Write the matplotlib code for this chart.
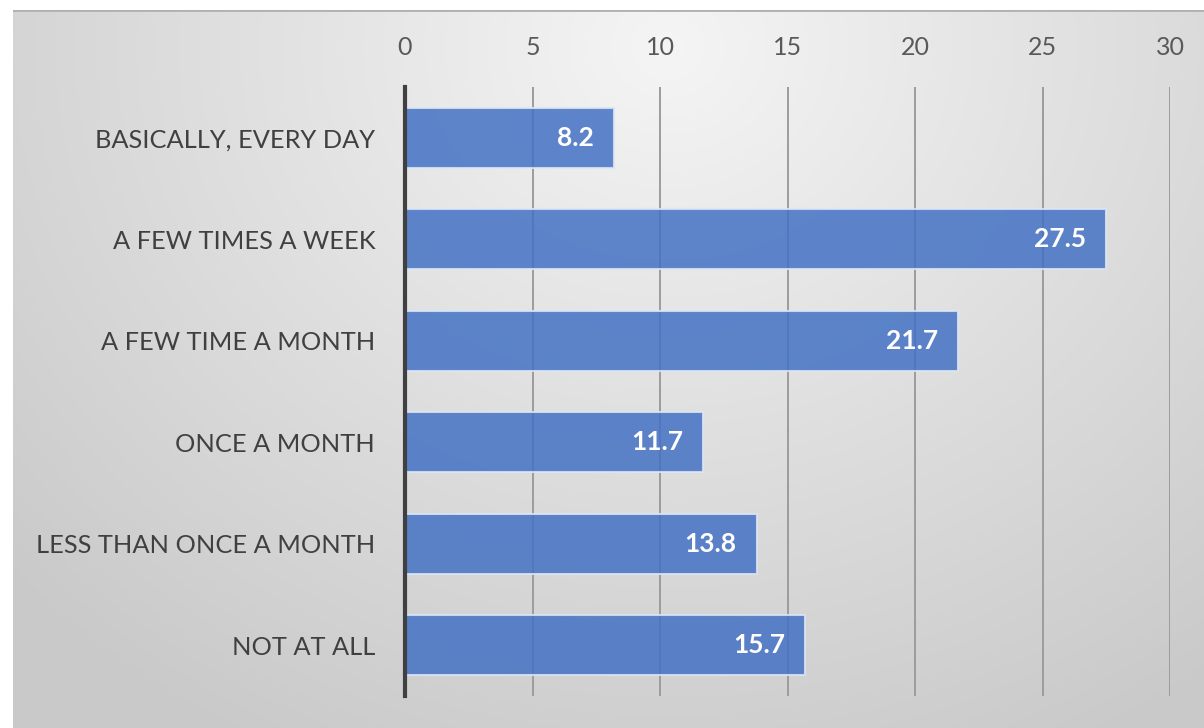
import numpy as np
import matplotlib.pyplot as plt

categorias = ['BASICALLY, EVERY DAY', 'A FEW TIMES A WEEK', 'A FEW TIME A MONTH',
              'ONCE A MONTH', 'LESS THAN ONCE A MONTH', 'NOT AT ALL']
valores = [8.2, 27.5, 21.7, 11.7, 13.8, 15.7]
ticks_x = [0, 5, 10, 15, 20, 25, 30]

plt.rcParams['font.family'] = ['Lato', 'DejaVu Sans']

fig = plt.figure(figsize=(12.04, 7.28), dpi=100, facecolor='white')

# fundo com gradiente radial
bg = fig.add_axes([13 / 1204, 0, 1 - 13 / 1204, 1 - 10 / 728])
bg.set_axis_off()
yy, xx = np.mgrid[0:1:300j, 0:1:500j]
d = np.sqrt(((xx - 0.55) / 0.75) ** 2 + ((yy - 0.05) / 1.1) ** 2)
d = np.clip(d, 0, 1)
cor = 0.96 - 0.17 * d
bg.imshow(np.dstack([cor, cor, cor]), aspect='auto', extent=[0, 1, 1, 0])
bg.axhline(0.0, color='#b0b0b0', lw=2)

ax = fig.add_axes([405 / 1204, 1 - 696 / 728, (1170 - 405) / 1204, (696 - 87) / 728])
ax.patch.set_alpha(0)

y = np.arange(len(categorias))
bars = ax.barh(y, valores, height=0.59, color='#4472c4', alpha=0.85,
               edgecolor='#dce6f5', linewidth=1.5, zorder=3)

for b, v in zip(bars, valores):
    ax.text(b.get_width() - 0.8, b.get_y() + b.get_height() / 2, f'{v}',
            ha='right', va='center', color='white', fontsize=19,
            fontweight='bold', zorder=4)

ax.set_xlim(0, 30)
ax.set_ylim(len(categorias) - 0.5, -0.5)
ax.set_yticks(y)
ax.set_yticklabels(categorias, fontsize=18.3, color='#404040')
ax.set_xticks(ticks_x)
ax.set_xticklabels([str(t) for t in ticks_x], fontsize=18, color='#595959')
ax.xaxis.tick_top()
ax.tick_params(axis='x', length=0, pad=20)
ax.tick_params(axis='y', length=0, pad=21.5)

ax.grid(axis='x', color='#9c9c9c', linewidth=1.4, zorder=1)
for s in ['top', 'right', 'bottom']:
    ax.spines[s].set_visible(False)
ax.spines['left'].set_color('#404040')
ax.spines['left'].set_linewidth(3)
ax.spines['left'].set_zorder(5)

fig.savefig('out.png', dpi=100, facecolor='white')
